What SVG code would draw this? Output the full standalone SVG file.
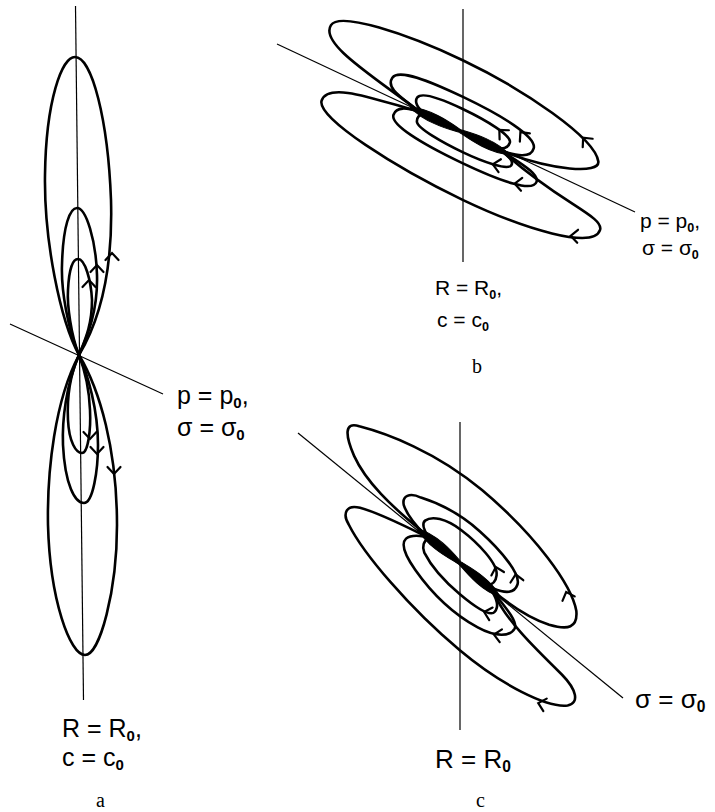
<svg xmlns="http://www.w3.org/2000/svg" width="715" height="812" viewBox="0 0 715 812">
<style>
.loop{fill:none;stroke:#000;stroke-width:2.6;stroke-linejoin:round;stroke-linecap:round}
.axis{fill:none;stroke:#000;stroke-width:1.2}
.arr{fill:none;stroke:#000;stroke-width:2.2;stroke-linecap:round;stroke-linejoin:miter}
.spin{fill:#000;stroke:#000;stroke-width:1}
.lbl{font-family:"Liberation Sans","DejaVu Sans",sans-serif;fill:#000}
.sub{font-size:60%;font-weight:bold}
.cap{font-family:"Liberation Serif","DejaVu Serif",serif;font-size:20px;fill:#000}
</style>
<defs>
<path id="chev" d="M -7,-6.5 L 0,0 L -7,6.5"/>
</defs>
<rect width="715" height="812" fill="#fff"/>

<!-- Panel a -->
<g id="panel-a">
  <g id="a-axes">
    <line class="axis" x1="75.5" y1="6" x2="83.5" y2="700"/>
    <line class="axis" x1="10" y1="324" x2="163" y2="394"/>
  </g>
  <g id="a-loops">
    <path class="loop" d="M 79,355 C 60,320 44,240 45,175 C 46,100 62,57 75,57 C 92,57 108,120 111,200 C 113,270 100,320 79,355 Z"/>
    <path class="loop" d="M 79,355 C 68,330 61,290 62,265 C 63,225 70,208 77,208 C 86,208 96,240 97,275 C 98,310 88,335 79,355 Z"/>
    <path class="loop" d="M 79,355 C 71,335 67,305 68,290 C 69,268 73,259 78,259 C 85,259 91,280 92,300 C 92,325 85,340 79,355 Z"/>
    <path class="loop" d="M 79,355 C 70,375 67,400 68,420 C 69,442 76,453 82,453 C 88,453 91,430 90,410 C 89,385 84,368 79,355 Z"/>
    <path class="loop" d="M 79,355 C 66,385 62,420 63,445 C 65,485 75,503 84,503 C 93,503 98,470 98,445 C 98,410 88,375 79,355 Z"/>
    <path class="loop" d="M 79,355 C 55,400 47,470 48,525 C 50,600 70,655 85,655 C 100,655 117,590 117,525 C 117,450 100,390 79,355 Z"/>
  </g>
  <g id="a-arrows">
    <use href="#chev" class="arr" transform="translate(112,253) rotate(-90)"/>
    <use href="#chev" class="arr" transform="translate(97,265) rotate(-90)"/>
    <use href="#chev" class="arr" transform="translate(89,280) rotate(-90)"/>
    <use href="#chev" class="arr" transform="translate(90,439) rotate(90)"/>
    <use href="#chev" class="arr" transform="translate(97,454) rotate(90)"/>
    <use href="#chev" class="arr" transform="translate(114,474) rotate(90)"/>
  </g>
  <g id="a-labels">
    <text class="lbl" x="177" y="404" font-size="25">p = p<tspan class="sub" dy="4">0</tspan><tspan dy="-4">,</tspan></text>
    <text class="lbl" x="177" y="436" font-size="25">σ = σ<tspan class="sub" dy="4">0</tspan></text>
    <text class="lbl" x="62" y="737" font-size="25">R = R<tspan class="sub" dy="4">0</tspan><tspan dy="-4">,</tspan></text>
    <text class="lbl" x="62" y="766" font-size="25">c = c<tspan class="sub" dy="4">0</tspan></text>
    <text class="cap" x="96" y="807">a</text>
  </g>
</g>

<!-- Panel b -->
<g id="panel-b">
  <g id="b-axes">
    <line class="axis" x1="463" y1="9" x2="463" y2="262"/>
    <line class="axis" x1="277" y1="44" x2="635" y2="212"/>
  </g>
  <g id="b-loops" transform="translate(460,131) rotate(25.5)">
    <path class="loop" d="M -45,0 C -100,-12 -165,-18 -162,-40 C -160,-56 -90,-65 -28,-65 C 40,-65 125,-52 138,-32 C 145,-21 100,-4 47,0"/>
    <path class="loop" d="M -45,0 C -90,8 -140,12 -138,32 C -136,50 -40,61 32,61 C 100,61 172,50 169,29 C 167,15 120,22 47,0"/>
    <path class="loop" d="M -45,0 C -65,-5 -86,-6 -84,-19 C -82,-30 -50,-32 -12,-32 C 30,-32 72,-28 74,-16 C 76,-5 60,-2 47,0"/>
    <path class="loop" d="M -45,0 C -58,2 -68,5 -67,14 C -66,24 -30,28 16,28 C 60,28 92,24 91,13 C 90,4 65,3 47,0"/>
    <path class="loop" d="M -40,0 C -48,-3 -54,-6 -53,-12 C -51,-19 -30,-21 -7,-21 C 20,-21 49,-18 50,-11 C 51,-4 45,-2 40,0"/>
    <path class="loop" d="M -40,0 C -44,3 -45,6 -43,10 C -40,16 -10,18 12,18 C 35,18 60,15 61,9 C 62,4 55,2 45,0"/>
    <path class="spin" d="M -55,0 C -35,-8 -10,-3 0,-1.5 C 10,-3 35,-8 55,0 C 35,8 10,3 0,1.5 C -10,3 -35,8 -55,0 Z"/>
    <use href="#chev" class="arr" transform="translate(114,-47) rotate(204)"/>
    <use href="#chev" class="arr" transform="translate(55,-25) rotate(205)"/>
    <use href="#chev" class="arr" transform="translate(35,-18) rotate(200)"/>
    <use href="#chev" class="arr" transform="translate(145,47) rotate(158)"/>
    <use href="#chev" class="arr" transform="translate(72,24) rotate(160)"/>
    <use href="#chev" class="arr" transform="translate(44,16) rotate(165)"/>
  </g>
  <g id="b-labels">
    <text class="lbl" x="640" y="228" font-size="21">p = p<tspan class="sub" dy="4">0</tspan><tspan dy="-4">,</tspan></text>
    <text class="lbl" x="642" y="255" font-size="21">σ = σ<tspan class="sub" dy="4">0</tspan></text>
    <text class="lbl" x="435" y="295" font-size="21">R = R<tspan class="sub" dy="4">0</tspan><tspan dy="-4">,</tspan></text>
    <text class="lbl" x="437" y="327" font-size="21">c = c<tspan class="sub" dy="4">0</tspan></text>
    <text class="cap" x="472" y="373">b</text>
  </g>
</g>

<!-- Panel c -->
<g id="panel-c">
  <g id="c-axes">
    <line class="axis" x1="460" y1="422" x2="460" y2="730"/>
    <line class="axis" x1="298" y1="433" x2="623" y2="698"/>
  </g>
  <g id="c-loops" transform="translate(460,563) rotate(40)">
    <path class="loop" d="M -45,0 C -90,1 -125,-2 -150,-14 C -170,-24 -180,-34 -165,-40 C -140,-52 -90,-70 -30,-70 C 40,-70 100,-55 120,-38 C 132,-26 126,-18 108,-10 C 90,-3 70,0 45,0"/>
    <path class="loop" d="M -45,2 C -70,8 -95,14 -112,22 C -125,28 -122,38 -110,42 C -80,55 -10,67 56,67 C 110,67 160,55 174,40 C 182,30 170,22 150,20 C 110,17 70,14 45,1"/>
    <path class="loop" d="M -45,1 C -55,0 -70,-2 -80,-8 C -88,-14 -84,-22 -72,-25 C -55,-32 -30,-38 -5,-37 C 25,-36 55,-30 58,-20 C 61,-12 55,-6 42,-2"/>
    <path class="loop" d="M -45,3 C -50,6 -56,10 -57,16 C -58,24 -45,30 -30,34 C 0,42 30,43 55,38 C 75,34 86,24 84,15 C 82,8 65,5 45,1"/>
    <path class="loop" d="M -42,0 C -48,-2 -55,-5 -54,-10 C -52,-18 -40,-25 -20,-26 C 0,-27 30,-24 36,-14 C 40,-8 38,-3 35,0"/>
    <path class="loop" d="M -40,2 C -42,6 -40,12 -34,15 C -20,21 0,24 20,24 C 40,24 58,22 58,15 C 58,9 52,4 42,1"/>
    <path class="spin" d="M -55,1 C -35,-8 -10,-3 0,-1.5 C 10,-3 35,-8 52,0 C 35,8 10,3 0,1.5 C -10,3 -35,9 -55,1 Z"/>
    <use href="#chev" class="arr" transform="translate(100,-46) rotate(210)"/>
    <use href="#chev" class="arr" transform="translate(50,-27) rotate(220)"/>
    <use href="#chev" class="arr" transform="translate(30,-20) rotate(215)"/>
    <use href="#chev" class="arr" transform="translate(150,57) rotate(155)"/>
    <use href="#chev" class="arr" transform="translate(72,33) rotate(150)"/>
    <use href="#chev" class="arr" transform="translate(50,22) rotate(155)"/>
  </g>
  <g id="c-labels">
    <text class="lbl" x="635" y="708" font-size="26">σ = σ<tspan class="sub" dy="4">0</tspan></text>
    <text class="lbl" x="435" y="768" font-size="26">R = R<tspan class="sub" dy="4">0</tspan></text>
    <text class="cap" x="476" y="807">c</text>
  </g>
</g>
</svg>
